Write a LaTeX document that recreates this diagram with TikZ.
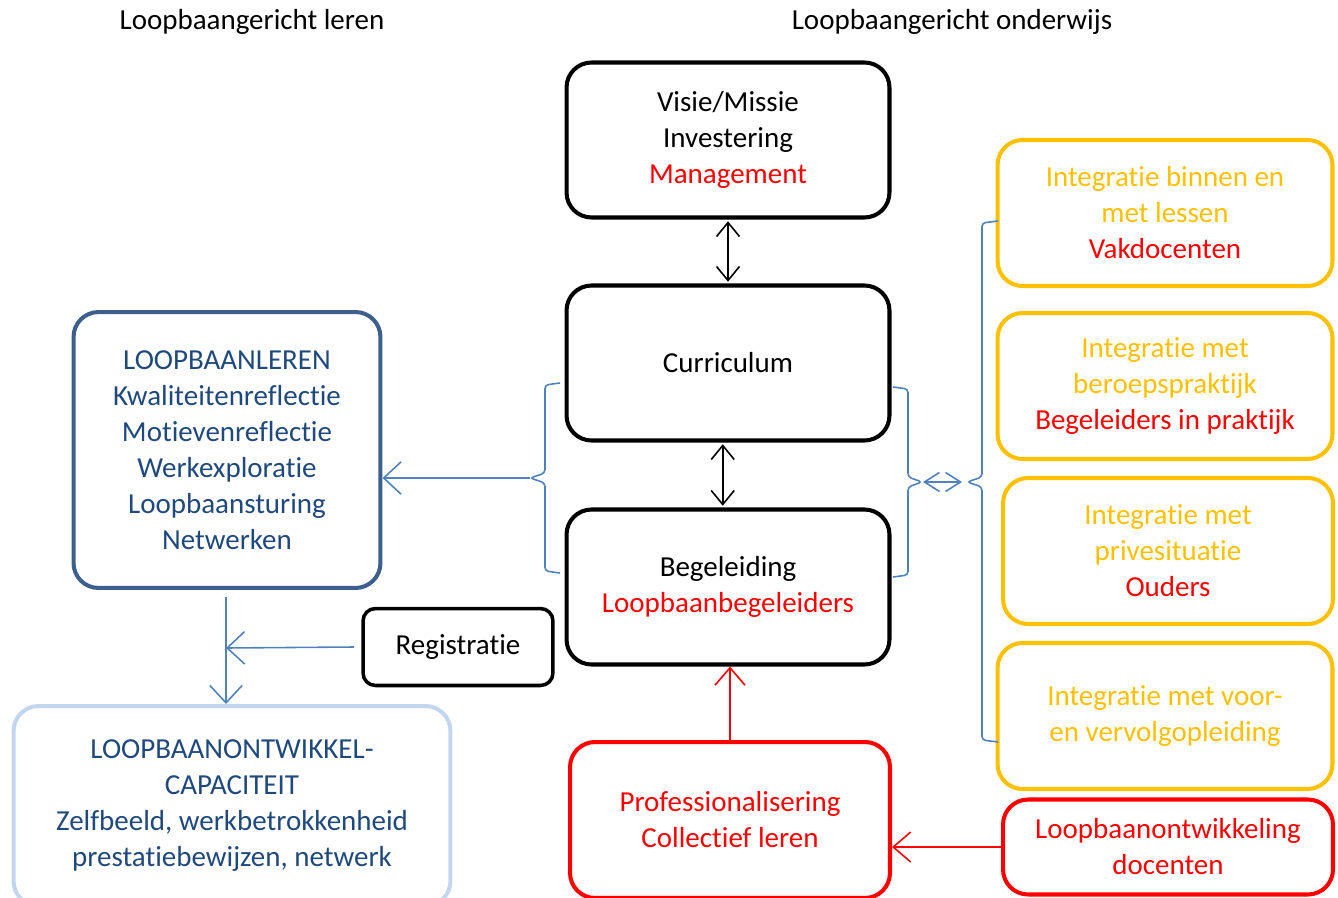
\documentclass[tikz,border=0pt]{standalone}
\usepackage{fontspec}
\setmainfont{Carlito}[Ligatures=NoCommon]
\usepackage{tikz}
\usetikzlibrary{positioning,arrows.meta}

\definecolor{lnblue}{HTML}{4F81BD}
\definecolor{boxblue}{HTML}{3D5F8E}
\definecolor{txtblue}{HTML}{1F497D}
\definecolor{ltblue}{HTML}{C3D6EF}
\definecolor{gold}{HTML}{FFC000}
\definecolor{brred}{HTML}{FF0000}

% t and i set apart (no ti ligature)
\newcommand{\tI}{t\kern0pt i}

\tikzset{
  box/.style={draw, line width=2.3pt, rounded corners=0.5cm, align=center, inner sep=0pt},
  blackbox/.style={box, minimum width=6.46cm, minimum height=3.1cm},
  goldbox/.style={box, draw=gold, text=gold, minimum width=6.7cm, minimum height=2.92cm},
  redbox/.style={box, draw=brred, text=brred},
  link/.style={draw=lnblue, line width=0.9pt, -{Straight Barb[length=3.5mm,width=6.5mm]}},
  dbl/.style={line width=0.9pt, {Straight Barb[length=2.8mm,width=4.6mm]}-{Straight Barb[length=2.8mm,width=4.6mm]}},
  bracket/.style={draw=lnblue, line width=0.9pt, rounded corners=2pt},
}

\begin{document}
\begin{tikzpicture}[x=0.02cm, y=-0.02cm, font=\fontsize{16.5}{20.5}\selectfont]
\useasboundingbox (0,0) rectangle (1338,898);

% titles
\node (tleren) at (252,22) {Loopbaangericht leren};
\node (tonderwijs) at (952,22) {Loopbaangericht onderwijs};

% middle column
\node[blackbox] (visie) at (728,140) {Visie/Missie\\Investering\\\textcolor{brred}{Management}};
\node[blackbox] (curr) at (728,363) {Curriculum};
\node[blackbox] (begel) at (728,587) {Begeleiding\\\textcolor{brred}{Loopbaanbegeleiders}};
\node[redbox, minimum width=6.4cm, minimum height=3.12cm] (prof) at (730,820) {Professionalisering\\Collec\tI ef leren};

% right column
\node[goldbox] (int1) at (1165,213) {Integra\tI e binnen en\\met lessen\\\textcolor{brred}{Vakdocenten}};
\node[goldbox] (int2) at (1165,386) {Integra\tI e met\\beroepspraktijk\\\textcolor{brred}{Begeleiders in praktijk}};
\node[goldbox, minimum width=6.6cm] (int3) at (1168,551) {Integra\tI e met\\privesitua\tI e\\\textcolor{brred}{Ouders}};
\node[goldbox] (int4) at (1165,716) {Integra\tI e met voor-\\en vervolgopleiding};
\node[redbox, minimum width=6.6cm, minimum height=1.9cm] (docent) at (1168,847) {Loopbaanontwikkeling\\docenten};

% left column
\node[box, draw=boxblue, text=txtblue, minimum width=6.14cm, minimum height=5.52cm] (leren) at (227,450)
  {LOOPBAANLEREN\\Kwaliteitenreflec\tI e\\Motievenreflec\tI e\\Werkexplora\tI e\\Loopbaansturing\\Netwerken};
\node[box, line width=2pt, rounded corners=0.25cm, minimum width=3.8cm, minimum height=1.54cm] (regis) at (458,647) {Registra\tI e};
\node[box, draw=ltblue, text=txtblue, minimum width=8.74cm, minimum height=4cm] (capac) at (232,806)
  {LOOPBAANONTWIKKEL-\\CAPACITEIT\\Zelfbeeld, werkbetrokkenheid\\presta\tI ebewijzen, netwerk};

% arrows in the middle
\draw[dbl] ([yshift=-1pt]visie.south) -- ([yshift=1pt]curr.north);
\draw[dbl] ([xshift=-3pt,yshift=-1pt]curr.south) -- ([xshift=-3pt,yshift=1pt]begel.north);
\draw[draw=brred, line width=0.9pt, -{Straight Barb[length=3.5mm,width=6mm]}] (prof.north) -- (prof.north |- begel.south);
\draw[draw=brred, line width=0.9pt, -{Straight Barb[length=3.5mm,width=6mm]}] (docent.west) -- (docent.west -| prof.east);

% left bracket
\draw[bracket] (560,383) -- (545,385) -- (545,473) -- (530,478) -- (545,483) -- (545,571) -- (560,573);
\coordinate (ltip) at (530,478);
\draw[link] (ltip) -- (ltip -| leren.east);

% right brackets
\draw[bracket] (893,387) -- (908,389) -- (908,477) -- (922,482) -- (908,487) -- (908,575) -- (893,577);
\draw[bracket] (998,221) -- (982,223) -- (982,477) -- (967,482) -- (982,487) -- (982,740) -- (998,742);
\coordinate (rtip1) at (923,482);
\coordinate (rtip2) at (962,482);
\draw[draw=lnblue, line width=0.9pt, {Straight Barb[length=3mm,width=3.8mm]}-{Straight Barb[length=3mm,width=3.8mm]}] (rtip1) -- (rtip2);

% left arrows
\coordinate (ldown) at (226,597);
\draw[link] (ldown) -- (ldown |- capac.north);
\coordinate (lmid) at (226,648);
\draw[link] ([xshift=-4pt]regis.west) -- (lmid);
\end{tikzpicture}
\end{document}
